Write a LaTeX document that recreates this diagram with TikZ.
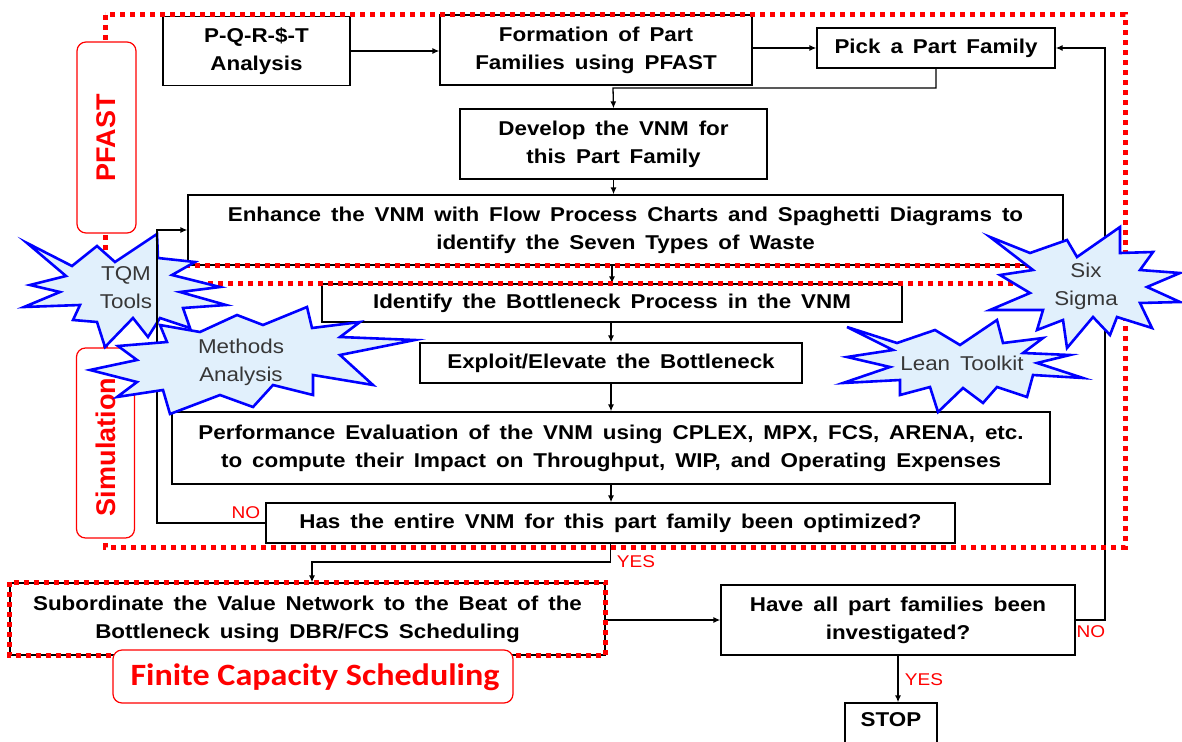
\documentclass[tikz,border=0pt]{standalone}
\usepackage{fontspec}
\setmainfont{Liberation Sans}
\newfontfamily\boxfont[FakeStretch=1.12,WordSpace=1.6]{Liberation Sans}
\newfontfamily\calib[FakeStretch=1.1]{Carlito}
\usetikzlibrary{arrows.meta,calc}
\definecolor{burstfill}{RGB}{225,240,252}
\definecolor{bursttxt}{RGB}{55,55,55}
\begin{document}
\begin{tikzpicture}[x=1pt,y=-1pt,
  box/.style={draw=black,line width=1.3pt,fill=white,align=center,inner sep=0pt,
    font=\boxfont\bfseries\fontsize{20}{28}\selectfont,text=black},
  arr/.style={line width=1.3pt,-{Latex[length=7pt,width=6pt]}},
  reddot/.style={draw=red,line width=5pt,dash pattern=on 5pt off 5pt},
  redlbl/.style={text=red,inner sep=0pt,font=\boxfont\fontsize{17}{17}\selectfont},
  tag/.style={draw=red,line width=1.2pt,rounded corners=9pt,fill=white,inner sep=0pt},
  tagtext/.style={rotate=90,text=red,inner sep=0pt,font=\bfseries\fontsize{27}{27}\selectfont},
  burst/.style={draw=blue,fill=burstfill,line width=2.6pt,line join=miter},
  bursttext/.style={align=center,text=bursttxt,inner sep=0pt,font=\boxfont\fontsize{20}{28}\selectfont}
]
\clip (0,0) rectangle (1182,741);
\fill[white] (0,0) rectangle (1182,741);

% ---- process boxes
\node[box,minimum width=187pt,minimum height=69pt] (pqrst) at (256.5,51) {P-Q-R-\$-T\\Analysis};
\node[box,minimum width=312pt,minimum height=70pt] (form) at (596,50) {Formation of Part\\Families using PFAST};
\node[box,minimum width=238pt,minimum height=40pt] (pick) at (936,48) {Pick a Part Family};
\node[box,minimum width=307pt,minimum height=70pt] (develop) at (613.5,144) {Develop the VNM for\\this Part Family};
\node[box,minimum width=875pt,minimum height=70pt] (enhance) at (625.5,230) {Enhance the VNM with Flow Process Charts and Spaghetti Diagrams to\\identify the Seven Types of Waste};
\node[box,minimum width=580pt,minimum height=38pt] (identify) at (612,303) {Identify the Bottleneck Process in the VNM};
\node[box,minimum width=382pt,minimum height=40pt] (exploit) at (611,363) {Exploit/Elevate the Bottleneck};
\node[box,minimum width=878pt,minimum height=72pt] (perf) at (611,448) {Performance Evaluation of the VNM using CPLEX, MPX, FCS, ARENA, etc.\\to compute their Impact on Throughput, WIP, and Operating Expenses};
\node[box,minimum width=689pt,minimum height=40pt] (has) at (610.5,523) {Has the entire VNM for this part family been optimized?};
\node[box,minimum width=595pt,minimum height=72pt] (sub) at (307.5,619) {Subordinate the Value Network to the Beat of the\\Bottleneck using DBR/FCS Scheduling};
\node[box,minimum width=354pt,minimum height=70pt] (have) at (898,620) {Have all part families been\\investigated?};
\node[box,minimum width=92pt,minimum height=60pt] (stop) at (891,733) {};
\node[font=\boxfont\bfseries\fontsize{20}{20}\selectfont,inner sep=0pt] (stoptext) at (891,720) {STOP};

% ---- connectors
\coordinate (j1) at (613,88);
\coordinate (y1) at (312,562);
\coordinate (n2) at (1105,620);
\draw[arr] (pqrst.east) -- (pqrst.east -| form.west);
\draw[arr] (form.east |- pick.west) -- (pick.west);
\draw[arr] (pick.south) |- (j1) -- (develop.north);
\draw[arr] (develop.south) -- (develop.south |- enhance.north);
\draw[arr] (identify.north |- enhance.south) -- (identify.north);
\draw[arr] (identify.south) -- (exploit.north |- identify.south) -- (exploit.north);
\draw[arr] (exploit.south) -- (exploit.south |- perf.north);
\draw[arr] (exploit.south |- perf.south) -- (exploit.south |- has.north);
\draw[arr] (has.south) |- (y1) -- (y1 |- sub.north);
\draw[arr] (sub.east |- have.west) -- (have.west);
\draw[arr] (have.east) -- (n2) |- (pick.east);
\draw[arr] (have.south) -- (have.south |- stop.north);

\node[redlbl] (yes1) at (636,562) {YES};
\node[redlbl] (no2) at (1091,632) {NO};
\node[redlbl] (yes2) at (924,680) {YES};

% ---- red dotted groups
\draw[reddot] (105,15) rectangle (1125,265);
\draw[reddot] (105,283) rectangle (1125,547);
\draw[reddot] (sub.north west) rectangle (sub.south east);

% ---- group tags
\node[tag,minimum width=59pt,minimum height=191pt] (pfasttag) at (106.5,137.5) {};
\node[tagtext] (pfasttxt) at (106,138) {PFAST};
\node[tag,minimum width=58pt,minimum height=190pt] (simtag) at (105.5,443) {};
\node[tagtext] (simtxt) at (106,447) {Simulation};
\node[tag,minimum width=400pt,minimum height=53pt] (fcstag) at (313,676.5) {};
\node[text=red,inner sep=0pt,font=\calib\bfseries\fontsize{31}{31}\selectfont] (fcstxt) at (315,677) {Finite Capacity Scheduling};

% ---- bursts
\draw[burst] (27,243) -- (72,266) -- (97,246) -- (115,262) -- (157,234) -- (158,258) -- (195,262) -- (172,275) -- (220,287) -- (180,292) -- (226,305) -- (183,308) -- (190,328) -- (160,318) -- (148,337) -- (133,318) -- (105,347) -- (97,322) -- (73,320) -- (80,305) -- (24,307) -- (60,292) -- (30,285) -- (66,276) -- cycle;
\node[bursttext] (tqm) at (126,288) {TQM\\Tools};

\draw[burst] (990,237) -- (1030,253) -- (1067,240) -- (1077,257) -- (1120,227) -- (1120,253) -- (1153,252) -- (1140,270) -- (1180,273) -- (1147,287) -- (1180,302) -- (1140,303) -- (1152,328) -- (1117,317) -- (1110,335) -- (1093,317) -- (1067,348) -- (1063,320) -- (1037,330) -- (1043,310) -- (990,310) -- (1030,293) -- (1000,275) -- (1033,270) -- cycle;
\node[bursttext] (six) at (1086,286) {Six\\Sigma};

\draw[burst] (847,327) -- (897,343) -- (935,330) -- (960,345) -- (997,320) -- (1003,343) -- (1043,338) -- (1023,353) -- (1070,355) -- (1037,363) -- (1083,378) -- (1033,375) -- (1027,397) -- (997,387) -- (983,403) -- (963,388) -- (938,412) -- (930,387) -- (900,395) -- (900,380) -- (843,383) -- (890,367) -- (847,357) -- (893,350) -- cycle;
\node[bursttext] (lean) at (962,363) {Lean Toolkit};

% ---- NO loop (drawn over TQM burst)
\coordinate (n1) at (157,523);
\draw[arr] (has.west) -- (has.west -| n1) |- (enhance.west);
\node[redlbl] (no1) at (246,513) {NO};

\draw[burst] (160,325) -- (200,332) -- (237,315) -- (263,325) -- (307,307) -- (312,328) -- (360,322) -- (340,337) -- (415,340) -- (340,355) -- (373,385) -- (313,375) -- (313,395) -- (273,385) -- (253,407) -- (220,395) -- (170,414) -- (163,390) -- (117,397) -- (137,382) -- (90,370) -- (137,360) -- (118,346) -- (167,342) -- cycle;
\node[bursttext] (methods) at (241,362) {Methods\\Analysis};
\end{tikzpicture}
\end{document}
